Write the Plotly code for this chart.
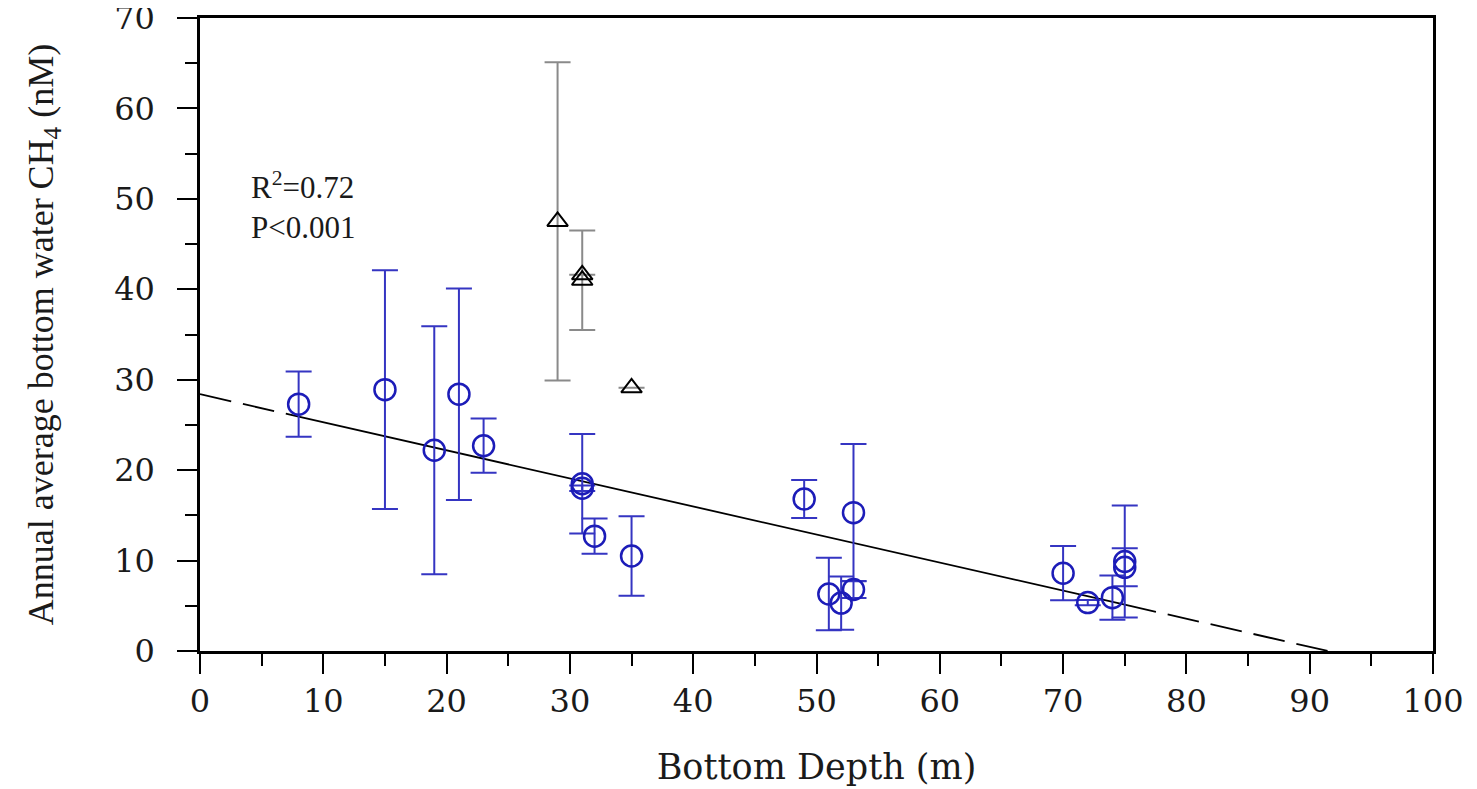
import numpy as np
import plotly.graph_objects as go

# Blue circles: stations used in the regression
depth = [8, 15, 19, 21, 23, 31, 31, 32, 35, 49, 51, 52, 53, 53, 70, 72, 74, 75, 75]
ch4 = [27.3, 28.9, 22.2, 28.4, 22.7, 18.5, 18.0, 12.7, 10.5, 16.8, 6.3, 5.3,
       15.3, 6.8, 8.6, 5.35, 5.9, 9.9, 9.25]
ch4_err = [3.6, 13.2, 13.7, 11.7, 3.0, 5.5, 0.3, 1.95, 4.4, 2.1, 4.0, 2.95,
           7.6, 0.95, 3.0, 0.3, 2.45, 6.2, 2.1]

# Black triangles: stations left out of the fit (None = no error bar)
tri_depth = [29, 31, 31, 35]
tri_ch4 = [47.5, 41.6, 41.0, 29.1]
tri_err = [17.6, None, 5.5, None]

# Regression
fit_intercept = 28.4
fit_slope = -0.3104
r2_text = "R<sup>2</sup>=0.72<br>P&lt;0.001"

x_ticks = list(range(0, 101, 10))
y_ticks = list(range(0, 71, 10))

BLUE = "#1c1cb8"
ERR_BLUE = "#3535c2"

fig = go.Figure()

# Regression line: solid over the data range, dashed extrapolation
x_lo, x_hi = min(depth), max(depth)
x_zero = -fit_intercept / fit_slope
seg_solid = np.array([x_lo, x_hi])
seg_left = np.array([0, x_lo])
seg_right = np.array([x_hi, x_zero])
for seg, dash in [(seg_left, "32px,12px"), (seg_solid, "solid"), (seg_right, "32px,12px")]:
    fig.add_trace(go.Scatter(
        x=seg, y=fit_intercept + fit_slope * seg, mode="lines",
        line=dict(color="black", width=1.8, dash=dash),
        hoverinfo="skip", showlegend=False,
    ))

fig.add_trace(go.Scatter(
    x=tri_depth, y=tri_ch4, mode="markers",
    marker=dict(symbol="triangle-up-open", size=18, color="black",
                line=dict(width=2, color="black")),
    error_y=dict(type="data", array=tri_err, visible=True,
                 color="#8a8a8a", thickness=2, width=13),
    showlegend=False,
))

fig.add_trace(go.Scatter(
    x=depth, y=ch4, mode="markers",
    marker=dict(symbol="circle-open", size=21, color=BLUE,
                line=dict(width=2.5, color=BLUE)),
    error_y=dict(type="data", array=ch4_err, visible=True,
                 color=ERR_BLUE, thickness=2, width=13),
    showlegend=False,
))

fig.add_annotation(
    x=4.0, y=49.3, xref="x", yref="y", text=r2_text, showarrow=False,
    xanchor="left", yanchor="middle", align="left",
    font=dict(family="Liberation Serif", size=31, color="#1a1a1a"),
)

axis_common = dict(
    showgrid=False, zeroline=False, showline=True, linecolor="black",
    linewidth=2.5, mirror=True, ticks="outside", ticklen=20, tickwidth=2,
    tickcolor="black", automargin=False, ticklabeloverflow="allow",
    tickfont=dict(family="DejaVu Serif", size=32, color="#1a1a1a"),
    minor=dict(ticks="outside", ticklen=12, tickwidth=1.5, tickcolor="black", dtick=5),
)

fig.update_xaxes(
    range=[0, 100], tickvals=x_ticks, ticklabelstandoff=0,
    title=dict(text="Bottom Depth (m)", standoff=36,
               font=dict(family="DejaVu Serif", size=35, color="#1a1a1a")),
    **axis_common,
)
fig.update_yaxes(
    range=[0, 70], tickvals=y_ticks, ticklabelstandoff=16,
    title=dict(text="Annual average bottom water CH<sub>4</sub> (nM)", standoff=50,
               font=dict(family="Liberation Serif", size=36, color="#1a1a1a")),
    **axis_common,
)

# the page body adds an 8px offset, so the margins are shifted to compensate
fig.update_layout(
    width=1477, height=789,
    margin=dict(l=192, r=52, t=10, b=146),
    plot_bgcolor="white", paper_bgcolor="white",
)

fig.write_html("out.html")
